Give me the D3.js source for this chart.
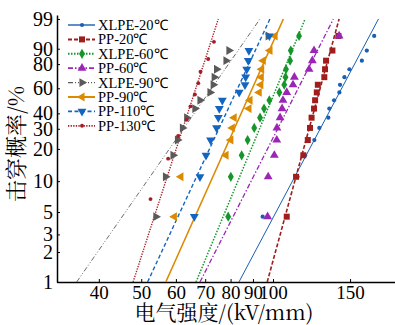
<!DOCTYPE html>
<html>
<head>
<meta charset="utf-8">
<script src="https://cdn.jsdelivr.net/npm/d3@7"></script>
<style>
  body { margin: 0; background: #fff; }
  text { font-family: "Liberation Serif", "Times New Roman", serif; }
  .cjk { font-family: "Noto Serif CJK SC", "Noto Sans CJK SC", serif; }
</style>
</head>
<body>
<svg width="395" height="325"></svg>
<script>
var svg = d3.select("svg"),
    width = 395, height = 325;

// cumulative failure probability (%) for each rank, 15 and 10 samples
var probs15 = [4.5, 11.0, 17.5, 24.0, 30.5, 37.0, 43.5, 50.0, 56.5, 63.0, 69.5, 76.0, 82.5, 89.0, 95.5];
var probs10 = [6.7, 16.3, 26.0, 35.6, 45.2, 54.8, 64.4, 74.0, 83.7, 93.3];

// breakdown strength, kV/mm
var names = ["XLPE-20℃", "PP-20℃", "XLPE-60℃", "PP-60℃", "XLPE-90℃", "PP-90℃", "PP-110℃", "PP-130℃"];
var xlpe20 = [94.7, 113.8, 118.4, 124.3, 127.6, 133.8, 134.5, 137.9, 141.8, 142.3, 145.6, 149.5, 159.6, 163.8, 170.3];
var pp20   = [107.5, 112.9, 117.3, 120.1, 121.5, 122.5, 124.1, 124.8, 125.9, 126.6, 131.0, 131.5, 132.2, 136.7, 141.1];
var xlpe60 = [79.0, 80.1, 84.8, 87.5, 90.6, 93.4, 95.4, 98.1, 103.4, 106.1, 106.8, 107.1, 109.4, 109.8, 114.7];
var pp60   = [97.2, 97.5, 100.7, 102.0, 102.1, 103.8, 104.9, 105.4, 107.5, 111.1, 111.9, 120.9, 123.0, 124.1, 141.6];
var xlpe90 = [54.0, 56.8, 59.1, 60.5, 62.1, 63.5, 66.3, 68.1, 71.8, 73.0, 73.4, 74.3, 78.1, 79.3, 97.5];
var pp90   = [59.5, 61.6, 78.1, 80.1, 80.7, 81.5, 88.1, 88.6, 93.0, 93.8, 94.0, 94.2, 95.0, 98.4, 101.1];
var pp110  = [66.1, 68.1, 70.3, 72.0, 74.3, 75.0, 75.4, 76.6, 83.7, 86.3, 86.6, 87.1, 87.8, 88.1, 98.1];
var pp130  = [52.5, 57.6, 60.7, 63.5, 64.8, 66.3, 67.5, 68.3, 71.1, 73.3];
var values = [xlpe20, pp20, xlpe60, pp60, xlpe90, pp90, pp110, pp130];
var probs  = [probs15, probs15, probs15, probs15, probs15, probs15, probs15, probs10];

// Weibull fit lines: strength at 1% and at 99%
var fitLow  = [83.6, 97.0, 66.7, 68.1, 35.6, 56.9, 51.7, 47.9];
var fitHigh = [174.2, 141.6, 118.4, 137.4, 93.4, 105.6, 98.4, 75.0];

var xTicks = [40, 50, 60, 70, 80, 90, 100, 150];
var yTicks = [1, 2, 3, 5, 10, 20, 30, 40, 60, 80, 90, 99];

/***********************************************************************************************/

var colors  = ["#1a5fb4", "#a11d1d", "#16962a", "#9b26b6", "#5a5a5a", "#dc8a00", "#1565c0", "#a51c24"];
var dashes  = [null, "4,2", "1.5,1.5", "5,2,1.5,2", "5,2,1,2,1,2", null, "4,2.5", "1.3,1.3"];
var widths  = [1, 1.6, 1.5, 1.3, 0.9, 1.6, 1.4, 1.4];
var symbols = [d3.symbolCircle, d3.symbolSquare, d3.symbolDiamond, d3.symbolTriangle, d3.symbolTriangle, d3.symbolTriangle, d3.symbolTriangle, d3.symbolCircle];
var rotate  = [0, 0, 0, 0, 90, 270, 180, 0];
var sizes   = [14, 36, 30, 34, 34, 34, 34, 12];

var wt = function(p){ return Math.log(-Math.log(1 - p/100)); };

var x = d3.scaleLog().domain([32.1, 190]).range([57, 395]);
var y = d3.scaleLinear().domain([wt(1), wt(99.36)]).range([282, 15]);

// axes
var gx = svg.append("g").attr("transform", "translate(0,282)")
  .call(d3.axisBottom(x).tickValues(xTicks).tickFormat(d3.format("d")).tickSizeInner(-3).tickSizeOuter(0).tickPadding(4));
var gy = svg.append("g").attr("transform", "translate(57,0)")
  .call(d3.axisLeft(y).tickValues(yTicks.map(wt)).tickFormat((d,i) => yTicks[i]).tickSizeInner(-3).tickSizeOuter(0).tickPadding(4));
gx.selectAll("text").style("font-size", "19px");
gy.selectAll("text").style("font-size", "20px");
[gx, gy].forEach(g => {
  g.selectAll("text").style("fill", "#000");
  g.select(".domain").style("stroke", "#000").style("stroke-width", 1.5);
  g.selectAll(".tick line").style("stroke", "#000");
});

// fit lines
values.forEach((vals, i) => {
  svg.append("line")
    .attr("x1", x(fitLow[i])).attr("y1", y(wt(1)))
    .attr("x2", x(fitHigh[i])).attr("y2", y(wt(99)))
    .style("stroke", colors[i]).style("stroke-width", widths[i])
    .style("stroke-dasharray", dashes[i]);
});

// points
values.forEach((vals, i) => {
  svg.append("g").selectAll("path").data(vals).join("path")
    .attr("d", d3.symbol().type(symbols[i]).size(sizes[i]))
    .attr("transform", (d,j) => "translate(" + x(d) + "," + y(wt(probs[i][j])) + ") rotate(" + rotate[i] + ")")
    .style("fill", colors[i]);
});

// legend
var lg = svg.append("g");
names.forEach((n, i) => {
  var ly = 25 + i*14.4;
  lg.append("line").attr("x1", 68).attr("x2", 95).attr("y1", ly).attr("y2", ly)
    .style("stroke", colors[i]).style("stroke-width", widths[i] + 0.4).style("stroke-dasharray", dashes[i]);
  lg.append("path").attr("d", d3.symbol().type(symbols[i]).size(sizes[i]))
    .attr("transform", "translate(82," + ly + ") rotate(" + rotate[i] + ")").style("fill", colors[i]);
  lg.append("text").attr("x", 98).attr("y", ly).attr("dy", "0.35em")
    .style("font-size", "14.5px").text(n);
});

// axis titles
svg.append("text").attr("class", "cjk").attr("x", 224).attr("y", 320)
  .attr("text-anchor", "middle").style("font-size", "21px").text("电气强度/(kV/mm)");
svg.append("text").attr("class", "cjk").attr("transform", "translate(24,144) rotate(-90)")
  .attr("text-anchor", "middle").style("font-size", "22px").text("击穿概率/%");
</script>
</body>
</html>
